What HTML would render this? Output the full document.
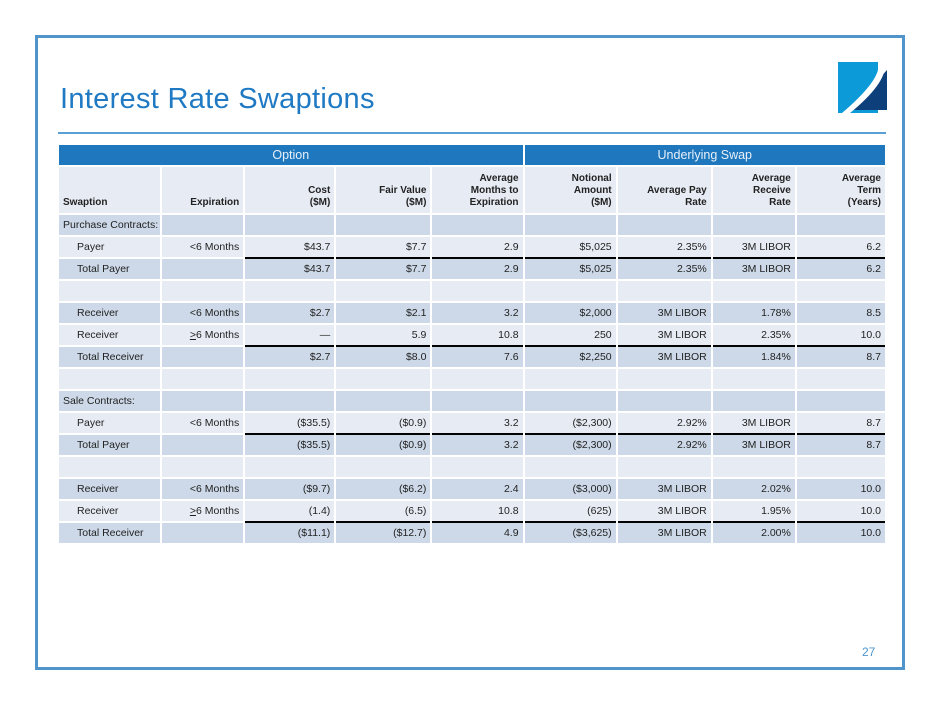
<!DOCTYPE html>
<html><head><meta charset="utf-8"><style>
body{margin:0;background:#fff;width:940px;height:705px;position:relative;overflow:hidden;font-family:"Liberation Sans",sans-serif}
.frame{position:absolute;left:35px;top:35px;width:864px;height:629px;border:3px solid #4f95cc}
h1{position:absolute;left:60px;top:83px;margin:0;font-weight:normal;font-size:29px;color:#1f7ac3;letter-spacing:0.3px}
.rule{position:absolute;left:58px;top:132px;width:828px;height:2px;background:#5a9fd4}
table{position:absolute;left:57px;top:143px;border-collapse:separate;border-spacing:2px;width:830px;table-layout:fixed;font-size:10.5px;color:#222}
td{padding:0 4px;height:20px;text-align:right;white-space:nowrap}
td:first-child{text-align:left}
tr.top td{background:#1f78be;color:#e8f0fa;text-align:center;font-size:12.5px;height:20px}
tr.hd td{background:#e7ecf4;font-weight:bold;font-size:10px;height:42px;vertical-align:bottom;padding-bottom:4px;line-height:12px}
tr.d td{background:#cdd9e8}
tr.l td{background:#e7ecf4}
tr.u td.n{box-shadow:0 2px 0 0 #000}
.in{padding-left:18px}
</style></head><body>
<div class="frame"></div>
<h1>Interest Rate Swaptions</h1>
<div class="rule"></div>
<svg style="position:absolute;left:838px;top:62px" width="49" height="52" viewBox="0 0 49 52">
<rect x="0" y="0" width="40" height="51" fill="#0d9ad8"/>
<polygon points="10,51 49,8 49,48 10,48" fill="#0d3f7a"/>
<path d="M40 0 Q45 16 4 51 L12 51 Q50 20 47 0 Z" fill="#fff"/>
</svg>
<table>
<colgroup><col style="width:101px"><col style="width:81px"><col style="width:89px"><col style="width:94px"><col style="width:90px"><col style="width:91px"><col style="width:93px"><col style="width:82px"><col style="width:88px"></colgroup>
<tr class="top"><td colspan="5" style="text-align:center">Option</td><td colspan="4" style="text-align:center">Underlying Swap</td></tr>
<tr class="hd"><td>Swaption</td><td>Expiration</td><td>Cost<br>($M)</td><td>Fair Value<br>($M)</td><td>Average<br>Months to<br>Expiration</td><td>Notional<br>Amount<br>($M)</td><td>Average Pay<br>Rate</td><td>Average<br>Receive<br>Rate</td><td>Average<br>Term<br>(Years)</td></tr>
<tr class="d"><td>Purchase Contracts:</td><td></td><td></td><td></td><td></td><td></td><td></td><td></td><td></td></tr>
<tr class="l u"><td class="in">Payer</td><td>&lt;6 Months</td><td class="n">$43.7</td><td class="n">$7.7</td><td class="n">2.9</td><td class="n">$5,025</td><td class="n">2.35%</td><td class="n">3M LIBOR</td><td class="n">6.2</td></tr>
<tr class="d"><td class="in">Total Payer</td><td></td><td>$43.7</td><td>$7.7</td><td>2.9</td><td>$5,025</td><td>2.35%</td><td>3M LIBOR</td><td>6.2</td></tr>
<tr class="l"><td></td><td></td><td></td><td></td><td></td><td></td><td></td><td></td><td></td></tr>
<tr class="d"><td class="in">Receiver</td><td>&lt;6 Months</td><td>$2.7</td><td>$2.1</td><td>3.2</td><td>$2,000</td><td>3M LIBOR</td><td>1.78%</td><td>8.5</td></tr>
<tr class="l u"><td class="in">Receiver</td><td><u>&gt;</u>6 Months</td><td class="n">—</td><td class="n">5.9</td><td class="n">10.8</td><td class="n">250</td><td class="n">3M LIBOR</td><td class="n">2.35%</td><td class="n">10.0</td></tr>
<tr class="d"><td class="in">Total Receiver</td><td></td><td>$2.7</td><td>$8.0</td><td>7.6</td><td>$2,250</td><td>3M LIBOR</td><td>1.84%</td><td>8.7</td></tr>
<tr class="l"><td></td><td></td><td></td><td></td><td></td><td></td><td></td><td></td><td></td></tr>
<tr class="d"><td>Sale Contracts:</td><td></td><td></td><td></td><td></td><td></td><td></td><td></td><td></td></tr>
<tr class="l u"><td class="in">Payer</td><td>&lt;6 Months</td><td class="n">($35.5)</td><td class="n">($0.9)</td><td class="n">3.2</td><td class="n">($2,300)</td><td class="n">2.92%</td><td class="n">3M LIBOR</td><td class="n">8.7</td></tr>
<tr class="d"><td class="in">Total Payer</td><td></td><td>($35.5)</td><td>($0.9)</td><td>3.2</td><td>($2,300)</td><td>2.92%</td><td>3M LIBOR</td><td>8.7</td></tr>
<tr class="l"><td></td><td></td><td></td><td></td><td></td><td></td><td></td><td></td><td></td></tr>
<tr class="d"><td class="in">Receiver</td><td>&lt;6 Months</td><td>($9.7)</td><td>($6.2)</td><td>2.4</td><td>($3,000)</td><td>3M LIBOR</td><td>2.02%</td><td>10.0</td></tr>
<tr class="l u"><td class="in">Receiver</td><td><u>&gt;</u>6 Months</td><td class="n">(1.4)</td><td class="n">(6.5)</td><td class="n">10.8</td><td class="n">(625)</td><td class="n">3M LIBOR</td><td class="n">1.95%</td><td class="n">10.0</td></tr>
<tr class="d"><td class="in">Total Receiver</td><td></td><td>($11.1)</td><td>($12.7)</td><td>4.9</td><td>($3,625)</td><td>3M LIBOR</td><td>2.00%</td><td>10.0</td></tr>
</table>
<div style="position:absolute;left:862px;top:645px;font-size:12px;color:#4f95cc">27</div>
</body></html>
